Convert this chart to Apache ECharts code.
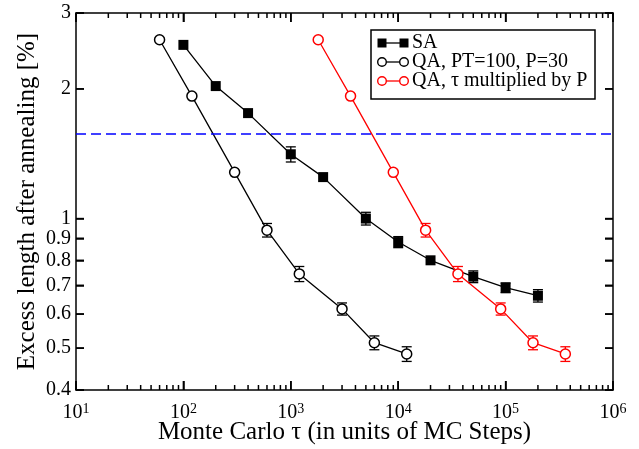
<!DOCTYPE html>
<html>
<head>
<meta charset="utf-8">
<script src="https://cdn.jsdelivr.net/npm/echarts@6/dist/echarts.min.js"></script>
<style>
html,body{margin:0;padding:0;background:#fff;}
#chart{width:639px;height:449px;}
</style>
</head>
<body>
<div id="chart"></div>
<script>
// ---- data ----
const saTau = [100, 200, 400, 1000, 2000, 5000, 10000, 20000, 50000, 100000, 200000];
const saVal = [2.53, 2.03, 1.757, 1.41, 1.248, 1.0, 0.882, 0.80, 0.733, 0.691, 0.662];
const saErr = [0, 0, 0, 0.057, 0, 0.034, 0.026, 0, 0.023, 0.018, 0.022];

const qaTau = [60, 120, 300, 600, 1200, 3000, 6000, 12000];
const qaVal = [2.60, 1.924, 1.28, 0.94, 0.744, 0.617, 0.515, 0.485];
const qaErr = [0, 0, 0, 0.034, 0.03, 0.02, 0.019, 0.019];

const qaPTau = [1800, 3600, 9000, 18000, 36000, 90000, 180000, 360000];
const qaPVal = [2.60, 1.924, 1.28, 0.94, 0.744, 0.617, 0.515, 0.485];
const qaPErr = [0, 0, 0, 0.034, 0.03, 0.02, 0.019, 0.019];

const refLevel = 1.57;

const X_MIN = 10, X_MAX = 1000000, Y_MIN = 0.4, Y_MAX = 3;
const xMajorTicks = [10, 100, 1000, 10000, 100000, 1000000];
const xMinorTicks = [];
for (let d = 10; d < 1000000; d *= 10) { for (let k = 2; k <= 9; k++) xMinorTicks.push(d * k); }
const yTicks = [0.4, 0.5, 0.6, 0.7, 0.8, 0.9, 1, 2, 3];

const seriesNames = ['SA', 'QA, PT=100, P=30', 'QA, \u03c4 multiplied by P'];
const xTitle = 'Monte Carlo \u03c4 (in units of MC Steps)';
const yTitle = 'Excess length after annealing [%]';

// ---- chart ----
const FONT = '"Liberation Serif", "Times New Roman", serif';
const chart = echarts.init(document.getElementById('chart'));

function pairs(xs, ys) { return xs.map((x, i) => [x, ys[i]]); }
function errData(xs, ys, es) { return xs.map((x, i) => [x, ys[i], es[i]]); }

function errSeries(xs, ys, es, color) {
  return {
    type: 'custom',
    xAxisIndex: 0, yAxisIndex: 0,
    z: 1,
    silent: true,
    data: errData(xs, ys, es),
    renderItem: function (params, api) {
      const e = api.value(2);
      if (!e) return null;
      const x = api.value(0), y = api.value(1);
      const lo = api.coord([x, y - e]);
      const hi = api.coord([x, y + e]);
      const w = 5;
      const st = {stroke: color, lineWidth: 1.3};
      return {
        type: 'group',
        children: [
          {type: 'line', shape: {x1: lo[0], y1: lo[1], x2: hi[0], y2: hi[1]}, style: st},
          {type: 'line', shape: {x1: lo[0] - w, y1: lo[1], x2: lo[0] + w, y2: lo[1]}, style: st},
          {type: 'line', shape: {x1: hi[0] - w, y1: hi[1], x2: hi[0] + w, y2: hi[1]}, style: st}
        ]
      };
    }
  };
}

// tick marks (inside, mirrored on all four sides) placed through the axes' scales
const tickData = []
  .concat(xMajorTicks.map(v => [v, Y_MIN, 0]))
  .concat(xMinorTicks.map(v => [v, Y_MIN, 1]))
  .concat(yTicks.map(v => [X_MIN, v, 2]));
const tickSeries = {
  type: 'custom', xAxisIndex: 0, yAxisIndex: 0, z: 5, silent: true, clip: false,
  data: tickData,
  renderItem: function (params, api) {
    const kind = api.value(2);
    const st = {stroke: '#000', lineWidth: 1.5};
    if (kind === 2) {
      const v = api.value(1);
      const l = api.coord([X_MIN, v]), r = api.coord([X_MAX, v]);
      return {type: 'group', children: [
        {type: 'line', shape: {x1: l[0], y1: l[1], x2: l[0] + 8, y2: l[1]}, style: st},
        {type: 'line', shape: {x1: r[0], y1: r[1], x2: r[0] - 8, y2: r[1]}, style: st}
      ]};
    }
    const v = api.value(0);
    const len = kind === 0 ? 9 : 5;
    const b = api.coord([v, Y_MIN]), t = api.coord([v, Y_MAX]);
    return {type: 'group', children: [
      {type: 'line', shape: {x1: b[0], y1: b[1], x2: b[0], y2: b[1] - len}, style: st},
      {type: 'line', shape: {x1: t[0], y1: t[1], x2: t[0], y2: t[1] + len}, style: st}
    ]};
  }
};

const xAxes = [
  {
    type: 'log', min: X_MIN, max: X_MAX, position: 'bottom',
    axisLine: {show: true, lineStyle: {color: '#000', width: 1.5}},
    axisTick: {show: true, inside: true, length: 9, customValues: xMajorTicks, lineStyle: {color: '#000', width: 1.5}},
    axisLabel: {
      show: true, customValues: xMajorTicks, margin: 12,
      formatter: function (v) { return '{b|10}{s|' + Math.round(Math.log10(v)) + '}'; },
      rich: {
        b: {fontSize: 20, fontFamily: FONT, color: '#000', lineHeight: 22},
        s: {fontSize: 14, fontFamily: FONT, color: '#000', verticalAlign: 'top', lineHeight: 14}
      }
    },
    splitLine: {show: false},
    name: xTitle, nameLocation: 'middle', nameGap: 30, nameMoveOverlap: false,
    nameTextStyle: {fontSize: 25, fontFamily: FONT, color: '#000'}
  },
  {
    type: 'log', min: X_MIN, max: X_MAX, position: 'top',
    axisLine: {show: true, lineStyle: {color: '#000', width: 1.5}},
    axisTick: {show: true, inside: true, length: 9, customValues: xMajorTicks, lineStyle: {color: '#000', width: 1.5}},
    axisLabel: {show: false}, splitLine: {show: false}
  }
];

const yAxes = [
  {
    type: 'log', min: Y_MIN, max: Y_MAX, position: 'left',
    axisLine: {show: true, lineStyle: {color: '#000', width: 1.5}},
    axisTick: {show: true, inside: true, length: 8, customValues: yTicks, lineStyle: {color: '#000', width: 1.5}},
    axisLabel: {
      show: true, customValues: yTicks, margin: 5,
      fontSize: 20, fontFamily: FONT, color: '#000',
      formatter: function (v) { return String(v); }
    },
    splitLine: {show: false},
    name: yTitle, nameLocation: 'middle', nameGap: 36, nameMoveOverlap: false,
    nameTextStyle: {fontSize: 25, fontFamily: FONT, color: '#000'}
  },
  {
    type: 'log', min: Y_MIN, max: Y_MAX, position: 'right',
    axisLine: {show: true, lineStyle: {color: '#000', width: 1.5}},
    axisTick: {show: true, inside: true, length: 8, customValues: yTicks, lineStyle: {color: '#000', width: 1.5}},
    axisLabel: {show: false}, splitLine: {show: false}
  }
];

// legend drawn as graphic (box + symbols + real text)
const LX = 371, LY = 30, LW = 224, LH = 69;
const rowsY = [43, 62, 81];
const legendGraphic = [
  {type: 'rect', shape: {x: LX, y: LY, width: LW, height: LH}, style: {fill: '#fff', stroke: '#000', lineWidth: 1.5}, z: 100}
];
const legColors = ['#000', '#000', '#ff0000'];
rowsY.forEach((ry, i) => {
  const c = legColors[i];
  legendGraphic.push({type: 'line', shape: {x1: 382, y1: ry, x2: 404, y2: ry}, style: {stroke: c, lineWidth: 1.3}, z: 101});
  [382, 404].forEach(cx => {
    if (i === 0) {
      legendGraphic.push({type: 'rect', shape: {x: cx - 4.5, y: ry - 4.5, width: 9, height: 9}, style: {fill: '#000'}, z: 102});
    } else {
      legendGraphic.push({type: 'circle', shape: {cx: cx, cy: ry, r: 4.3}, style: {fill: '#fff', stroke: c, lineWidth: 1.4}, z: 102});
    }
  });
  legendGraphic.push({type: 'text', x: 412, y: ry, style: {text: seriesNames[i], font: '20px ' + FONT, fill: '#000', verticalAlign: 'middle', align: 'left'}, z: 102});
});

const option = {
  backgroundColor: '#fff',
  animation: false,
  textStyle: {fontFamily: FONT},
  grid: {left: 76, right: 26, top: 13, bottom: 59, outerBoundsMode: 'none'},
  xAxis: xAxes,
  yAxis: yAxes,
  graphic: legendGraphic,
  series: [
    errSeries(saTau, saVal, saErr, '#000'),
    errSeries(qaTau, qaVal, qaErr, '#000'),
    errSeries(qaPTau, qaPVal, qaPErr, '#ff0000'),
    {
      name: seriesNames[0], type: 'line', xAxisIndex: 0, yAxisIndex: 0, z: 3,
      data: pairs(saTau, saVal),
      symbol: 'rect', symbolSize: 10,
      itemStyle: {color: '#000'},
      lineStyle: {color: '#000', width: 1.3},
      markLine: {
        silent: true, symbol: ['none', 'none'], label: {show: false},
        lineStyle: {color: '#0000ff', type: [10, 5], width: 1.5},
        data: [{yAxis: refLevel}]
      }
    },
    {
      name: seriesNames[1], type: 'line', xAxisIndex: 0, yAxisIndex: 0, z: 3,
      data: pairs(qaTau, qaVal),
      symbol: 'circle', symbolSize: 10,
      itemStyle: {color: '#fff', borderColor: '#000', borderWidth: 1.5},
      lineStyle: {color: '#000', width: 1.3}
    },
    {
      name: seriesNames[2], type: 'line', xAxisIndex: 0, yAxisIndex: 0, z: 3,
      data: pairs(qaPTau, qaPVal),
      symbol: 'circle', symbolSize: 10,
      itemStyle: {color: '#fff', borderColor: '#ff0000', borderWidth: 1.5},
      lineStyle: {color: '#ff0000', width: 1.3}
    },
    tickSeries
  ]
};
chart.setOption(option);
</script>
</body>
</html>
